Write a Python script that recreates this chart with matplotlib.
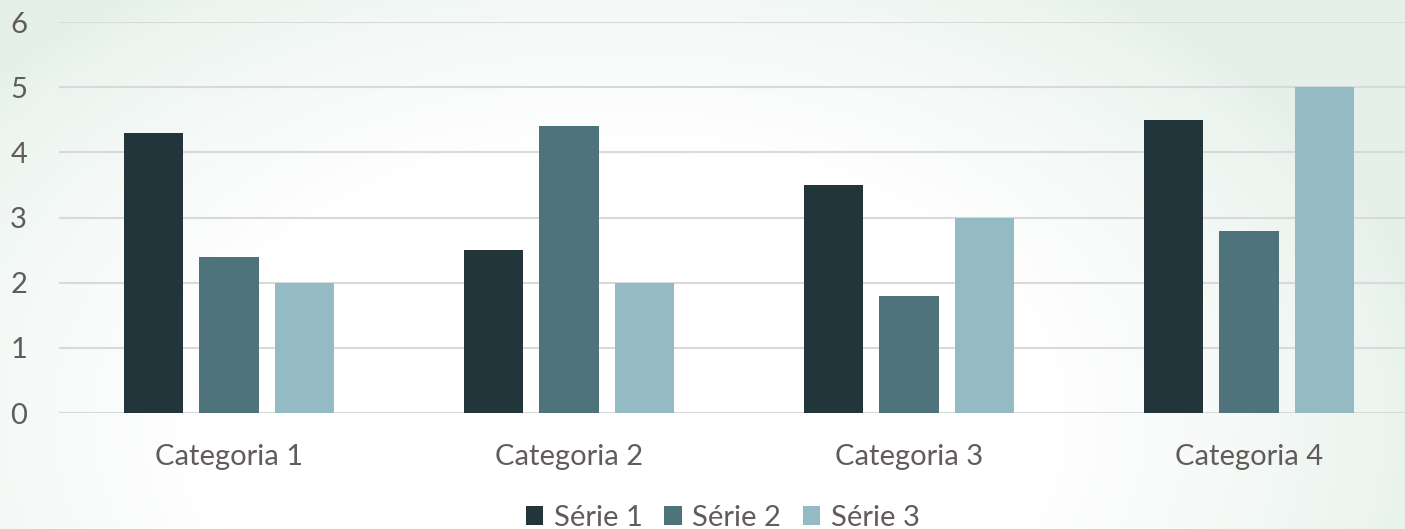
import matplotlib
matplotlib.use('Agg')
import matplotlib.pyplot as plt
import numpy as np

categories = ['Categoria 1', 'Categoria 2', 'Categoria 3', 'Categoria 4']
serie1 = [4.3, 2.5, 3.5, 4.5]
serie2 = [2.4, 4.4, 1.8, 2.8]
serie3 = [2.0, 2.0, 3.0, 5.0]
series_names = ['Série 1', 'Série 2', 'Série 3']
yticks = [0, 1, 2, 3, 4, 5, 6]

colors = ['#21353B', '#4E737B', '#94BAC3']
text_color = '#625B5B'

plt.rcParams['font.family'] = ['Lato', 'DejaVu Sans']

W, H = 1405, 529
fig = plt.figure(figsize=(W / 100, H / 100), dpi=100)

# soft greenish background with a white glow in the middle
bg = fig.add_axes([0, 0, 1, 1], zorder=-10)
yy, xx = np.mgrid[0:H, 0:W]
d = np.sqrt(((xx - 620) / 650.0) ** 2 + ((yy - 420) / 420.0) ** 2)
white = np.clip(1.25 - d, 0, 1) ** 0.7
white = np.clip(white * 1.4, 0, 1)
base = np.array([0.90, 0.945, 0.92])
img = base[None, None, :] * (1 - white[..., None]) + white[..., None]
bg.imshow(img, aspect='auto', extent=[0, 1, 0, 1], origin='upper')
bg.axis('off')

ax = fig.add_axes([59 / W, 1 - 413 / H, (1419 - 59) / W, (413 - 22) / H])
ax.patch.set_alpha(0)

x = np.arange(len(categories))
width = 0.176
step = 0.222
for i, vals in enumerate([serie1, serie2, serie3]):
    ax.bar(x + (i - 1) * step, vals, width=width, color=colors[i],
           label=series_names[i], zorder=3)

ax.set_xlim(-0.5, 3.5)
ax.set_ylim(0, 6)
ax.set_yticks(yticks)
ax.set_xticks(x)
ax.set_xticklabels(categories)
ax.yaxis.grid(True, color='#D9D9D9', linewidth=1.5, zorder=0)
ax.set_axisbelow(True)
for s in ax.spines.values():
    s.set_visible(False)
ax.tick_params(length=0, labelsize=21, colors=text_color)
ax.tick_params(axis='y', pad=23)
ax.tick_params(axis='x', pad=22)

ax.legend(loc='center', bbox_to_anchor=(0.488, -0.268), ncol=3, frameon=False,
          fontsize=21, labelcolor=text_color, handlelength=0.6, handleheight=0.6,
          handletextpad=0.35, columnspacing=0.75, borderpad=0)

fig.savefig('out.png', dpi=100)
